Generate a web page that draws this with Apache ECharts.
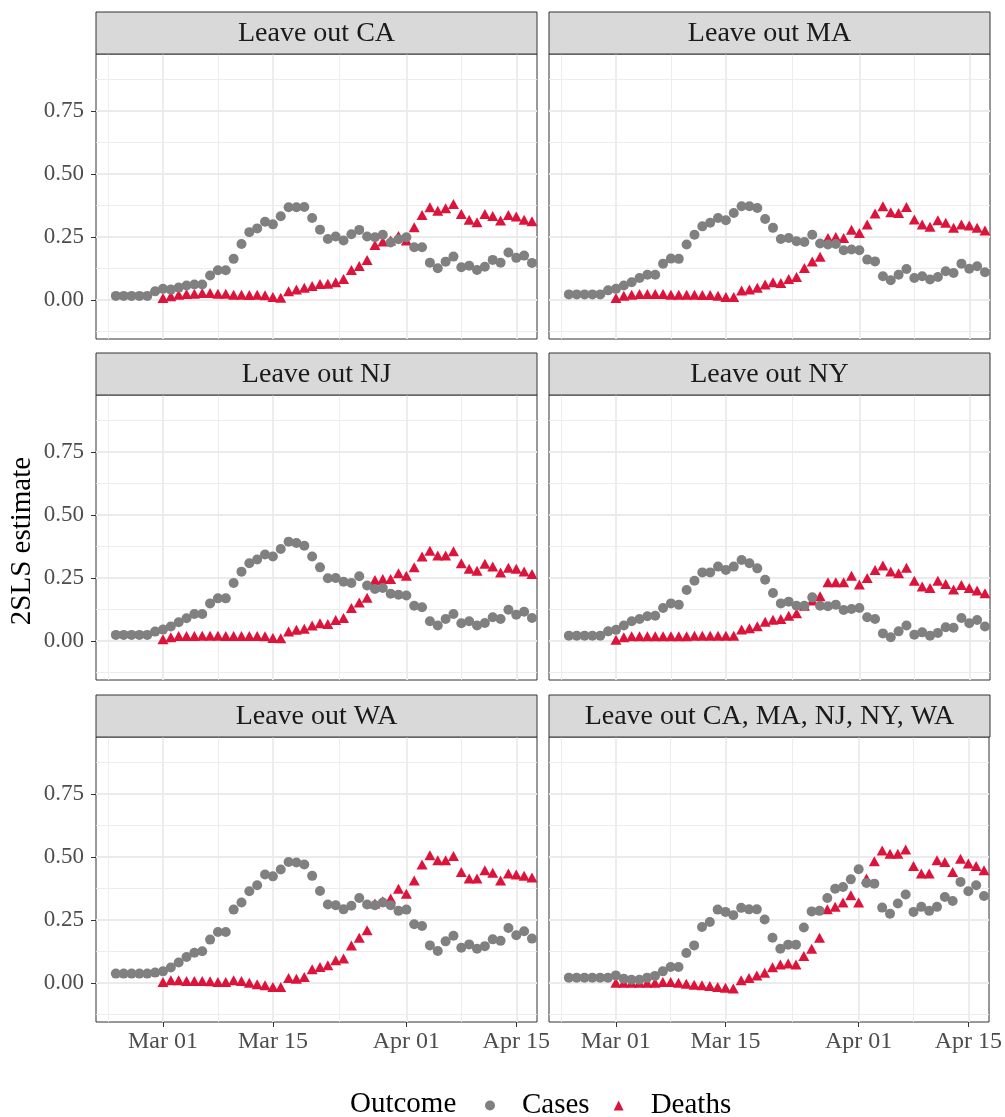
<!DOCTYPE html>
<html>
<head>
<meta charset="utf-8">
<script src="https://cdn.jsdelivr.net/npm/echarts@6/dist/echarts.min.js"></script>
<style>html,body{margin:0;padding:0;background:#fff}#chart{width:1005px;height:1117px}</style>
</head>
<body>
<div id="chart"></div>
<script>
// ---- Data ----
const dates = ['Feb 24','Feb 25','Feb 26','Feb 27','Feb 28','Feb 29',
  'Mar 01','Mar 02','Mar 03','Mar 04','Mar 05','Mar 06','Mar 07','Mar 08','Mar 09','Mar 10',
  'Mar 11','Mar 12','Mar 13','Mar 14','Mar 15','Mar 16','Mar 17','Mar 18','Mar 19','Mar 20',
  'Mar 21','Mar 22','Mar 23','Mar 24','Mar 25','Mar 26','Mar 27','Mar 28','Mar 29','Mar 30',
  'Mar 31','Apr 01','Apr 02','Apr 03','Apr 04','Apr 05','Apr 06','Apr 07','Apr 08','Apr 09',
  'Apr 10','Apr 11','Apr 12','Apr 13','Apr 14','Apr 15','Apr 16','Apr 17'];
const deathsStart = 'Mar 01';
const refDate = 'Mar 01'; // x = days since Mar 01

const panelTitles = ['Leave out CA','Leave out MA','Leave out NJ','Leave out NY','Leave out WA','Leave out CA, MA, NJ, NY, WA'];

const casesCA = [0.016,0.016,0.016,0.016,0.016,0.034,
  0.044,0.041,0.049,0.057,0.061,0.061,0.097,0.118,0.118,0.163,
  0.222,0.269,0.284,0.310,0.300,0.332,0.368,0.368,0.369,0.325,
  0.279,0.242,0.252,0.236,0.261,0.278,0.252,0.249,0.259,0.228,
  0.241,0.249,0.209,0.209,0.148,0.126,0.152,0.172,0.130,0.136,
  0.119,0.132,0.159,0.148,0.188,0.167,0.176,0.147];
const deathsCA = [0.008,0.015,0.021,0.024,0.025,0.028,0.028,0.025,0.025,0.021,
  0.021,0.020,0.021,0.019,0.012,0.009,0.034,0.041,0.048,0.055,
  0.063,0.064,0.070,0.083,0.119,0.135,0.159,0.218,0.232,0.236,
  0.254,0.236,0.288,0.337,0.368,0.354,0.364,0.381,0.341,0.318,
  0.308,0.341,0.333,0.315,0.337,0.331,0.318,0.312];

const casesMA = [0.022,0.022,0.022,0.022,0.022,0.038,
  0.044,0.057,0.070,0.087,0.100,0.100,0.144,0.164,0.163,0.220,
  0.259,0.292,0.306,0.325,0.316,0.345,0.372,0.372,0.365,0.321,
  0.286,0.242,0.246,0.233,0.230,0.259,0.224,0.220,0.222,0.197,
  0.200,0.197,0.160,0.153,0.094,0.078,0.100,0.123,0.087,0.094,
  0.081,0.091,0.114,0.107,0.144,0.124,0.134,0.110];
const deathsMA = [0.008,0.017,0.021,0.024,0.024,0.024,0.024,0.021,0.021,0.021,
  0.021,0.020,0.020,0.017,0.012,0.012,0.037,0.041,0.048,0.061,
  0.070,0.067,0.083,0.091,0.127,0.153,0.171,0.246,0.250,0.246,
  0.279,0.266,0.299,0.343,0.372,0.348,0.345,0.369,0.319,0.299,
  0.290,0.316,0.306,0.286,0.299,0.295,0.286,0.276];

const casesNJ = [0.024,0.024,0.024,0.024,0.024,0.037,
  0.045,0.057,0.074,0.090,0.107,0.107,0.149,0.169,0.169,0.230,
  0.275,0.308,0.323,0.343,0.335,0.365,0.394,0.389,0.378,0.335,
  0.292,0.249,0.250,0.235,0.230,0.257,0.220,0.206,0.210,0.187,
  0.183,0.180,0.140,0.134,0.078,0.061,0.087,0.107,0.070,0.078,
  0.061,0.071,0.094,0.087,0.124,0.104,0.116,0.091];
const deathsNJ = [0.007,0.015,0.020,0.020,0.020,0.021,0.021,0.021,0.020,0.020,
  0.020,0.020,0.020,0.019,0.012,0.011,0.037,0.044,0.048,0.061,
  0.070,0.067,0.083,0.091,0.131,0.153,0.171,0.242,0.246,0.246,
  0.269,0.259,0.292,0.335,0.358,0.339,0.339,0.356,0.308,0.286,
  0.279,0.306,0.295,0.272,0.290,0.286,0.276,0.266];

const casesNY = [0.021,0.021,0.021,0.021,0.021,0.038,
  0.044,0.061,0.078,0.087,0.098,0.100,0.131,0.149,0.144,0.202,
  0.239,0.272,0.272,0.295,0.282,0.295,0.321,0.308,0.288,0.243,
  0.190,0.149,0.156,0.140,0.140,0.173,0.140,0.138,0.144,0.123,
  0.127,0.131,0.094,0.087,0.030,0.015,0.038,0.061,0.025,0.034,
  0.021,0.032,0.054,0.052,0.091,0.070,0.083,0.057];
const deathsNY = [0.005,0.015,0.019,0.019,0.019,0.019,0.019,0.019,0.019,0.019,
  0.021,0.021,0.021,0.021,0.021,0.021,0.045,0.050,0.058,0.076,
  0.084,0.087,0.100,0.110,0.140,0.160,0.177,0.233,0.233,0.233,
  0.259,0.224,0.250,0.282,0.299,0.276,0.269,0.290,0.239,0.216,
  0.210,0.239,0.226,0.204,0.222,0.210,0.200,0.189];

const casesWA = [0.037,0.037,0.037,0.037,0.037,0.041,
  0.046,0.061,0.081,0.103,0.120,0.126,0.172,0.202,0.202,0.291,
  0.319,0.364,0.388,0.430,0.423,0.450,0.480,0.478,0.470,0.425,
  0.365,0.311,0.308,0.292,0.306,0.337,0.311,0.308,0.319,0.308,
  0.286,0.291,0.233,0.226,0.149,0.127,0.165,0.187,0.140,0.153,
  0.136,0.146,0.173,0.167,0.218,0.189,0.205,0.176];
const deathsWA = [0.004,0.011,0.011,0.008,0.008,0.008,0.007,0.004,0.004,0.011,
  0.008,0.001,-0.005,-0.009,-0.016,-0.016,0.020,0.017,0.024,0.054,
  0.063,0.070,0.090,0.097,0.149,0.179,0.209,0.315,0.324,0.335,
  0.374,0.354,0.407,0.470,0.507,0.487,0.487,0.504,0.440,0.414,
  0.414,0.447,0.437,0.407,0.434,0.430,0.425,0.418];

const casesAll = [0.021,0.021,0.021,0.021,0.021,0.021,
  0.030,0.017,0.013,0.013,0.021,0.028,0.046,0.063,0.063,0.119,
  0.149,0.222,0.242,0.291,0.282,0.269,0.298,0.292,0.292,0.252,
  0.179,0.136,0.152,0.152,0.220,0.284,0.286,0.337,0.374,0.381,
  0.411,0.451,0.397,0.394,0.299,0.275,0.315,0.351,0.282,0.302,
  0.286,0.302,0.341,0.325,0.401,0.364,0.388,0.345];
const deathsAll = [0.001,0.001,0.001,0.001,0.001,0.001,0.004,0.004,0.001,-0.003,
  -0.007,-0.009,-0.012,-0.016,-0.019,-0.022,0.011,0.020,0.030,0.040,
  0.062,0.073,0.077,0.073,0.107,0.136,0.179,0.292,0.302,0.319,
  0.348,0.319,0.414,0.483,0.526,0.513,0.513,0.530,0.464,0.434,
  0.434,0.487,0.480,0.440,0.493,0.474,0.464,0.447];

const panelCases = [casesCA, casesMA, casesNJ, casesNY, casesWA, casesAll];
const panelDeaths = [deathsCA, deathsMA, deathsNJ, deathsNY, deathsWA, deathsAll];

const xTickLabels = ['Mar 01','Mar 15','Apr 01','Apr 15'];
const yTickValues = [0, 0.25, 0.5, 0.75];
const yMinorValues = [-0.125, 0.125, 0.375, 0.625, 0.875];

// ---- helpers ----
const refIdx = dates.indexOf(refDate);
const dayOf = (label) => dates.indexOf(label) - refIdx;
const xTickValues = xTickLabels.map(dayOf);
const xMinorValues = [-7, 7, 22.5, 38];
const deathsOffset = dates.indexOf(deathsStart);

// ---- layout ----
const FONT = '"Liberation Serif", "DejaVu Serif", serif';
const colLeft = [96, 549];
const rowTop = [54, 395, 737];
const panelW = 441, panelH = 285, stripH = 42;
const xMin = -8.53, xMax = 47.64;
const yMin = -0.155, yMax = 0.976;

const grids = [], xAxes = [], yAxes = [], series = [], graphics = [];

panelTitles.forEach((title, i) => {
  const col = i % 2, row = Math.floor(i / 2);
  const left = colLeft[col], top = rowTop[row];
  const bottomRow = row === 2, leftCol = col === 0;
  grids.push({left: left, top: top, width: panelW, height: panelH,
    show: true, borderColor: '#333333', borderWidth: 1, backgroundColor: '#ffffff'});

  // major x axis
  xAxes.push({type: 'value', gridIndex: i, min: xMin, max: xMax, position: 'bottom',
    axisLine: {show: false, onZero: false},
    axisTick: {show: bottomRow, customValues: xTickValues, length: 5, lineStyle: {color: '#333333', width: 1}},
    axisLabel: {show: bottomRow, customValues: xTickValues, margin: 8,
      fontFamily: FONT, fontSize: 24, color: '#4D4D4D',
      formatter: (v) => { const k = xTickValues.indexOf(Math.round(v)); return k >= 0 ? xTickLabels[k] : ''; }},
    splitLine: {show: true, lineStyle: {color: '#EBEBEB', width: 1.8}}
  });
  // minor x axis
  xAxes.push({type: 'value', gridIndex: i, min: xMin, max: xMax, position: 'bottom',
    axisLine: {show: false, onZero: false},
    axisTick: {show: false, customValues: xMinorValues},
    axisLabel: {show: false, customValues: xMinorValues},
    splitLine: {show: true, lineStyle: {color: '#EBEBEB', width: 0.9}}
  });
  // major y axis
  yAxes.push({type: 'value', gridIndex: i, min: yMin, max: yMax, position: 'left',
    axisLine: {show: false, onZero: false},
    axisTick: {show: leftCol, customValues: yTickValues, length: 5, lineStyle: {color: '#333333', width: 1}},
    axisLabel: {show: leftCol, customValues: yTickValues, margin: 12,
      fontFamily: FONT, fontSize: 23, color: '#4D4D4D',
      formatter: (v) => v.toFixed(2)},
    splitLine: {show: true, lineStyle: {color: '#EBEBEB', width: 1.8}}
  });
  // minor y axis
  yAxes.push({type: 'value', gridIndex: i, min: yMin, max: yMax, position: 'left',
    axisLine: {show: false, onZero: false},
    axisTick: {show: false, customValues: yMinorValues},
    axisLabel: {show: false, customValues: yMinorValues},
    splitLine: {show: true, lineStyle: {color: '#EBEBEB', width: 0.9}}
  });

  const deathsData = panelDeaths[i].map((v, k) => [dayOf(dates[k + deathsOffset]), v]);
  const casesData = panelCases[i].map((v, k) => [dayOf(dates[k]), v]);
  series.push({type: 'scatter', name: 'Deaths', xAxisIndex: 2 * i, yAxisIndex: 2 * i,
    data: deathsData, symbol: 'triangle', symbolSize: [11, 10], z: 3,
    itemStyle: {color: '#DC143C', opacity: 1}});
  series.push({type: 'scatter', name: 'Cases', xAxisIndex: 2 * i, yAxisIndex: 2 * i,
    data: casesData, symbol: 'circle', symbolSize: 10, z: 4,
    itemStyle: {color: '#808080', opacity: 1}});

  // strip
  graphics.push({type: 'rect', silent: true, z: 10,
    shape: {x: left, y: top - stripH, width: panelW, height: stripH},
    style: {fill: '#D9D9D9', stroke: '#333333', lineWidth: 1}});
  graphics.push({type: 'text', silent: true, z: 11,
    x: left + panelW / 2, y: top - stripH / 2 + 1,
    style: {text: title, fontFamily: FONT, fontSize: 28, fill: '#1A1A1A', align: 'center', verticalAlign: 'middle'}});
});

graphics.push({type: 'text', silent: true, x: 22, y: 541, rotation: Math.PI / 2,
  style: {text: '2SLS estimate', fontFamily: FONT, fontSize: 29, fill: '#000000', align: 'center', verticalAlign: 'middle'}});
graphics.push({type: 'text', silent: true, x: 350, y: 1104,
  style: {text: 'Outcome', fontFamily: FONT, fontSize: 29, fill: '#000000', align: 'left', verticalAlign: 'middle'}});

const chart = echarts.init(document.getElementById('chart'), null, {renderer: 'canvas'});
chart.setOption({
  animation: false,
  backgroundColor: '#ffffff',
  grid: grids,
  xAxis: xAxes,
  yAxis: yAxes,
  series: series,
  legend: {
    data: [{name: 'Cases', icon: 'circle'}, {name: 'Deaths', icon: 'triangle'}],
    left: 480, top: 1086, itemWidth: 10, itemHeight: 10, itemGap: 24,
    selectedMode: false,
    textStyle: {fontFamily: FONT, fontSize: 29, color: '#000000', padding: [0, 0, 0, 22]}
  },
  graphic: graphics
});
</script>
</body>
</html>
